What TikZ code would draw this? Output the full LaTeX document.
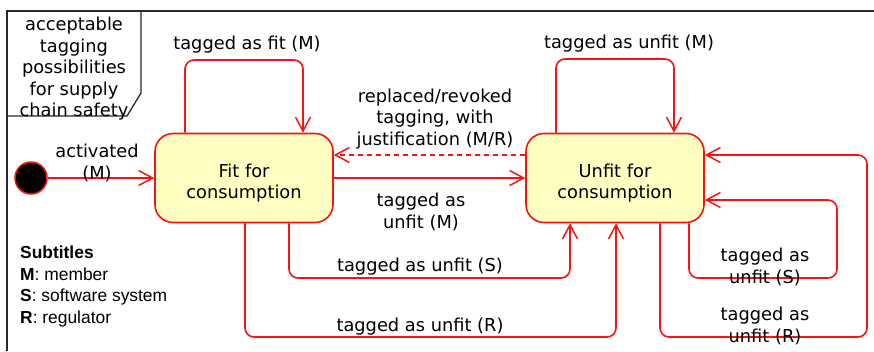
\documentclass[tikz,border=0pt]{standalone}
\usepackage{fontspec}
\setmainfont{DejaVu Sans}
\newfontfamily\legendfont{Liberation Sans}
\usetikzlibrary{arrows.meta}
\definecolor{trred}{RGB}{245,20,20}
\definecolor{statefill}{RGB}{255,255,194}
\definecolor{framegray}{RGB}{40,40,40}
% two centred lines of a state name, set slightly below the box centre
\newcommand\statename[1]{\raisebox{-10pt}[0pt][0pt]{\begin{tabular}{@{}c@{}}#1\end{tabular}}}
\tikzset{
  txt/.style={font=\fontsize{17.8}{21.5}\selectfont, align=center, inner sep=0pt},
  legendtxt/.style={font=\legendfont\fontsize{17.4}{21.5}\selectfont, align=left, inner sep=0pt},
  state/.style={draw=trred, line width=1.6pt, fill=statefill, rounded corners=18pt,
    minimum width=178pt, minimum height=89pt, txt},
  tr/.style={draw=trred, line width=1.6pt, rounded corners=9pt,
    -{Straight Barb[length=14pt,width=15pt,line width=1.5pt]}},
  trd/.style={tr, dashed, dash pattern=on 5pt off 4pt},
  frame/.style={draw=framegray, line width=1.3pt},
}
\begin{document}
\begin{tikzpicture}[x=1pt,y=-1pt]
\useasboundingbox (0,0) rectangle (874,351);
% diagram frame and its name tag
\draw[frame] (7,351) -- (7,11) -- (874,11);
\draw[frame] (7,116) -- (127,116) -- (141,93) -- (141,11);
\node[txt] (title) at (74,69) {acceptable\\tagging\\possibilities\\for supply\\chain safety};

% states
\node[circle, fill=black, draw=trred, line width=1.5pt, minimum size=32pt, inner sep=0pt] (init) at (31,178) {};
\node[state] (fit) at (244,178) {\statename{Fit for\\consumption}};
\node[state] (unfit) at (615,178) {\statename{Unfit for\\consumption}};

% corner points of the looping transitions
\coordinate (fitloop) at (244,60);
\coordinate (unfitloop) at (615,59);
\coordinate (sbot) at (430,278);
\coordinate (rbot) at (430,337);
\coordinate (sself) at (837,278);
\coordinate (rself) at (867,337);

% transitions
\draw[tr] (init) -- (fit.west);
\draw[tr] (fit.east) -- (unfit.west);
\draw[trd] ([yshift=23pt]unfit.west) -- ([yshift=23pt]fit.east);
\draw[tr] ([xshift=-59pt]fit.north) |- (fitloop) -| ([xshift=59pt]fit.north);
\draw[tr] ([xshift=-59pt]unfit.north) |- (unfitloop) -| ([xshift=59pt]unfit.north);
\draw[tr] ([xshift=45pt]fit.south) |- (sbot) -| ([xshift=-45pt]unfit.south);
\draw[tr] ([xshift=1pt]fit.south) |- (rbot) -| ([xshift=1pt]unfit.south);
\draw[tr] ([xshift=74pt]unfit.south) |- (sself) |- ([yshift=-22pt]unfit.east);
\draw[tr] ([xshift=45pt]unfit.south) |- (rself) |- ([yshift=23pt]unfit.east);

% transition labels
\node[txt] (lact) at (97,163) {activated\\(M)};
\node[txt] (lfit) at (247,45) {tagged as fit (M)};
\node[txt] (lunfit) at (629,44) {tagged as unfit (M)};
\node[txt] (lrep) at (435,119) {replaced/revoked\\tagging, with\\justification (M/R)};
\node[txt] (lm) at (421,212) {tagged as\\unfit (M)};
\node[txt] (ls) at (420,267) {tagged as unfit (S)};
\node[txt] (lr) at (420,327) {tagged as unfit (R)};
\node[txt] (lss) at (765,267) {tagged as\\unfit (S)};
\node[txt] (lrs) at (765,326) {tagged as\\unfit (R)};

% legend
\node[legendtxt, anchor=north west] (legend) at (20,246)
  {\textbf{Subtitles}\\\textbf{M}: member\\\textbf{S}: software system\\\textbf{R}: regulator};
\end{tikzpicture}
\end{document}
